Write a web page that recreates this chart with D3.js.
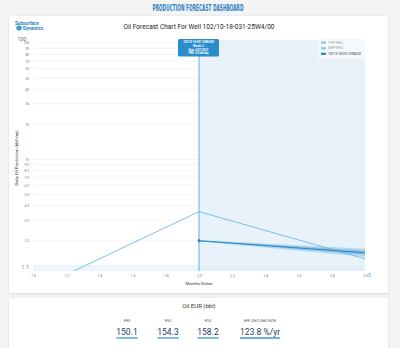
<!DOCTYPE html>
<html><head><meta charset="utf-8">
<script src="https://cdn.jsdelivr.net/npm/d3@7"></script>
<style>html,body{margin:0;padding:0;background:#f4f4f4;overflow:hidden}</style>
</head><body><svg id="c" width="400" height="348"></svg>
<script>
const typeMonths = [1, 2, 3];
const typeValues = [0.75, 3.56, 1.40];
const wellMonths = [2, 3];
const wellP50 = [2.0, 1.58];
const wellLow = [1.97, 1.46];
const wellHigh = [2.03, 1.71];
const wellInnerLow = [1.99, 1.52];
const wellInnerHigh = [2.01, 1.65];
const yTicks = [2,3,4,5,6,7,8,9,10,20,30,40,50,60,70,80,90,100];
const xTicks = [1.0,1.2,1.4,1.6,1.8,2.0,2.2,2.4,2.6,2.8,3.0];
const legendItems = ["TYPE WELL","DEEP WELL","102/10-18-031-25W4/00"];
const tooltipLines = ["102/10-18-031-25W4/00","Month: 2","Date: 2/01/2013","PRD: 2.0 bbl/day"];
const eurLabels = ["P90","P50","P10","EFF. DECLINE RATE"];
const eurValues = ["150.1","154.3","158.2","123.8 %/yr"];

const svg = d3.select("#c");
const defs = svg.append("defs");
const f = defs.append("filter").attr("id","sh").attr("x","-5%").attr("y","-5%").attr("width","110%").attr("height","115%");
f.append("feDropShadow").attr("dx",0).attr("dy",0.6).attr("stdDeviation",0.8).attr("flood-color","#000").attr("flood-opacity",0.15);

svg.append("text").attr("x",198).attr("y",11).attr("text-anchor","middle")
  .attr("font-family","'Liberation Sans Narrow','DejaVu Sans Condensed',sans-serif").attr("font-weight","bold")
  .attr("font-size",9).attr("fill","#2f7fc3").attr("textLength",91).attr("lengthAdjust","spacingAndGlyphs")
  .text("PRODUCTION FORECAST DASHBOARD");

svg.append("rect").attr("x",9).attr("y",16).attr("width",379).attr("height",277).attr("rx",2).attr("fill","#fff").attr("filter","url(#sh)");
svg.append("rect").attr("x",9).attr("y",298).attr("width",379).attr("height",60).attr("rx",2).attr("fill","#fff").attr("filter","url(#sh)");

// logo
const logo = svg.append("g");
logo.append("path").attr("d","M15.5,26.5 Q19,31.5 23,26.5 Q19,28.5 15.5,26.5 Z").attr("fill","#2a8ccb");
logo.append("circle").attr("cx",19).attr("cy",28).attr("r",2.6).attr("fill","#3a9ad6");
logo.append("text").attr("x",15).attr("y",25).attr("font-family","Roboto,sans-serif").attr("font-weight","bold").attr("font-size",4.6).attr("fill","#2a7fc1").text("Subsurface");
logo.append("text").attr("x",23).attr("y",29.8).attr("font-family","Roboto,sans-serif").attr("font-weight","bold").attr("font-size",4.6).attr("fill","#2a7fc1").text("Dynamics");

svg.append("text").attr("x",199).attr("y",28.5).attr("text-anchor","middle").attr("font-family","Roboto,sans-serif")
  .attr("font-size",6.3).attr("fill","#222").attr("textLength",151).attr("lengthAdjust","spacingAndGlyphs")
  .text("Oil Forecast Chart For Well 102/10-18-031-25W4/00");

const x = d3.scaleLinear().domain([1,3]).range([33,365]);
const y = d3.scaleLog().domain([1.1,106]).range([271,40]);
const x0 = x.range()[0], x1 = x.range()[1], yTop = y.range()[1], yBot = y.range()[0];

defs.append("clipPath").attr("id","clip").append("rect").attr("x",x0).attr("y",yTop).attr("width",x1-x0).attr("height",yBot-yTop);

// forecast shading
svg.append("rect").attr("x",x(2)).attr("y",yTop).attr("width",x(3)-x(2)).attr("height",yBot-yTop).attr("fill","#e7f2fa");
// bottom band
svg.append("rect").attr("x",x0).attr("y",yBot-6).attr("width",x1-x0).attr("height",6).attr("fill","#d9ebf7").attr("opacity",0.5);

// grid
const g = svg.append("g");
g.selectAll("line.grid").data(yTicks).join("line").attr("x1",x0).attr("x2",x1)
  .attr("y1",d=>y(d)).attr("y2",d=>y(d)).attr("stroke","#ececec").attr("stroke-width",0.6);

// y axis
const yAxis = d3.axisLeft(y).tickValues(yTicks).tickSize(0).tickPadding(4).tickFormat(d=>d<10?d3.format(".1f")(d):String(d));
const ya = svg.append("g").attr("transform",`translate(${x0},0)`).call(yAxis);
ya.select(".domain").remove();
ya.selectAll("text").attr("font-family","Roboto,sans-serif").attr("font-size",3.2).attr("fill","#777");
svg.append("text").attr("x",26).attr("y",yTop+0.5).attr("text-anchor","end").attr("font-family","Roboto,sans-serif").attr("font-size",5).attr("fill","#4a6d94").text("100");
svg.append("text").attr("x",29).attr("y",yBot-2).attr("text-anchor","end").attr("font-family","Roboto,sans-serif").attr("font-size",5.5).attr("fill","#5b8fd0").text("1.1");

// x axis
const xAxis = d3.axisBottom(x).tickValues(xTicks).tickSize(0).tickPadding(4).tickFormat(d3.format(".1f"));
const xa = svg.append("g").attr("transform",`translate(0,${yBot})`).call(xAxis);
xa.select(".domain").remove();
xa.selectAll("text").attr("font-family","Roboto,sans-serif").attr("font-size",3.4).attr("fill","#777");
svg.append("text").attr("x",x1+3).attr("y",yBot+5.5).attr("font-family","Roboto,sans-serif").attr("font-size",5).attr("fill","#5b8fd0").text("3");

svg.append("text").attr("x",199).attr("y",285).attr("text-anchor","middle").attr("font-family","'Liberation Sans Narrow',Roboto,sans-serif")
  .attr("font-size",4.2).attr("fill","#333").text("Months Online");
svg.append("text").attr("transform",`translate(18,158) rotate(-90)`).attr("text-anchor","middle").attr("font-family","'Liberation Sans Narrow',Roboto,sans-serif")
  .attr("font-size",4.4).attr("fill","#333").attr("textLength",55).attr("lengthAdjust","spacingAndGlyphs").text("Daily Oil Production (bbl/day)");

// series
const plot = svg.append("g").attr("clip-path","url(#clip)");
const area = d3.area().x(d=>x(d.m)).y0(d=>y(d.lo)).y1(d=>y(d.hi));
const bandOuter = wellMonths.map((m,i)=>({m,lo:wellLow[i],hi:wellHigh[i]}));
const bandInner = wellMonths.map((m,i)=>({m,lo:wellInnerLow[i],hi:wellInnerHigh[i]}));
plot.append("path").attr("d",area(bandOuter)).attr("fill","#5aa9d9").attr("opacity",0.35);
plot.append("path").attr("d",area(bandInner)).attr("fill","#3f97d0").attr("opacity",0.35);
const line = d3.line().x(d=>x(d.m)).y(d=>y(d.v));
plot.append("path").attr("d",line(typeMonths.map((m,i)=>({m,v:typeValues[i]})))).attr("fill","none").attr("stroke","#5ab4e4").attr("stroke-width",0.8);
plot.append("path").attr("d",line(wellMonths.map((m,i)=>({m,v:wellP50[i]})))).attr("fill","none").attr("stroke","#2b86c3").attr("stroke-width",1.1);

// vertical marker
svg.append("line").attr("x1",x(2)).attr("x2",x(2)).attr("y1",yTop).attr("y2",yBot).attr("stroke","#4aaade").attr("stroke-width",0.9);
svg.append("circle").attr("cx",x(wellMonths[0])).attr("cy",y(wellP50[0])).attr("r",1.4).attr("fill","#2b7fbd");

// legend
const lg = svg.append("g");
lg.append("rect").attr("x",318).attr("y",39).attr("width",47).attr("height",20).attr("fill","#f4f9fd");
const lcol = ["#8cc6ea","#8cc6ea","#2b86c3"];
legendItems.forEach((t,i)=>{
  lg.append("rect").attr("x",321).attr("y",41.5+i*5.6).attr("width",5).attr("height",2.2).attr("fill",lcol[i]);
  lg.append("text").attr("x",328).attr("y",43.7+i*5.6).attr("font-family","'Liberation Sans Narrow',Roboto,sans-serif").attr("font-size",3)
    .attr("fill",i<2?"#999":"#333").text(t);
});

// tooltip
const tt = svg.append("g");
tt.append("rect").attr("x",178).attr("y",39).attr("width",41).attr("height",17.5).attr("rx",1.5).attr("fill","#2a8ccb");
tooltipLines.forEach((t,i)=>{
  tt.append("text").attr("x",198.5).attr("y",43+i*3.8).attr("text-anchor","middle").attr("font-family","Roboto,sans-serif")
    .attr("font-size",2.7).attr("font-weight","bold").attr("fill","#fff").text(t);
});

// EUR card
svg.append("text").attr("x",199).attr("y",308).attr("text-anchor","middle").attr("font-family","Roboto,sans-serif").attr("font-size",6).attr("fill","#333").text("Oil EUR (bbl)");
const cx = [127,168,208,260];
eurLabels.forEach((t,i)=>{
  svg.append("text").attr("x",cx[i]).attr("y",322).attr("text-anchor","middle").attr("font-family","'Liberation Sans Narrow','DejaVu Sans Condensed',sans-serif")
    .attr("font-size",3.8).attr("fill","#444").text(t);
  const tx = svg.append("text").attr("x",cx[i]).attr("y",334.5).attr("text-anchor","middle").attr("font-family","Roboto,sans-serif")
    .attr("font-size",8.5).attr("fill","#1f3d63").text(eurValues[i]);
  const bb = tx.node().getBBox();
  svg.append("line").attr("x1",bb.x).attr("x2",bb.x+bb.width).attr("y1",338).attr("y2",338).attr("stroke","#3d9ad6").attr("stroke-width",1.3);
});
</script></body></html>
